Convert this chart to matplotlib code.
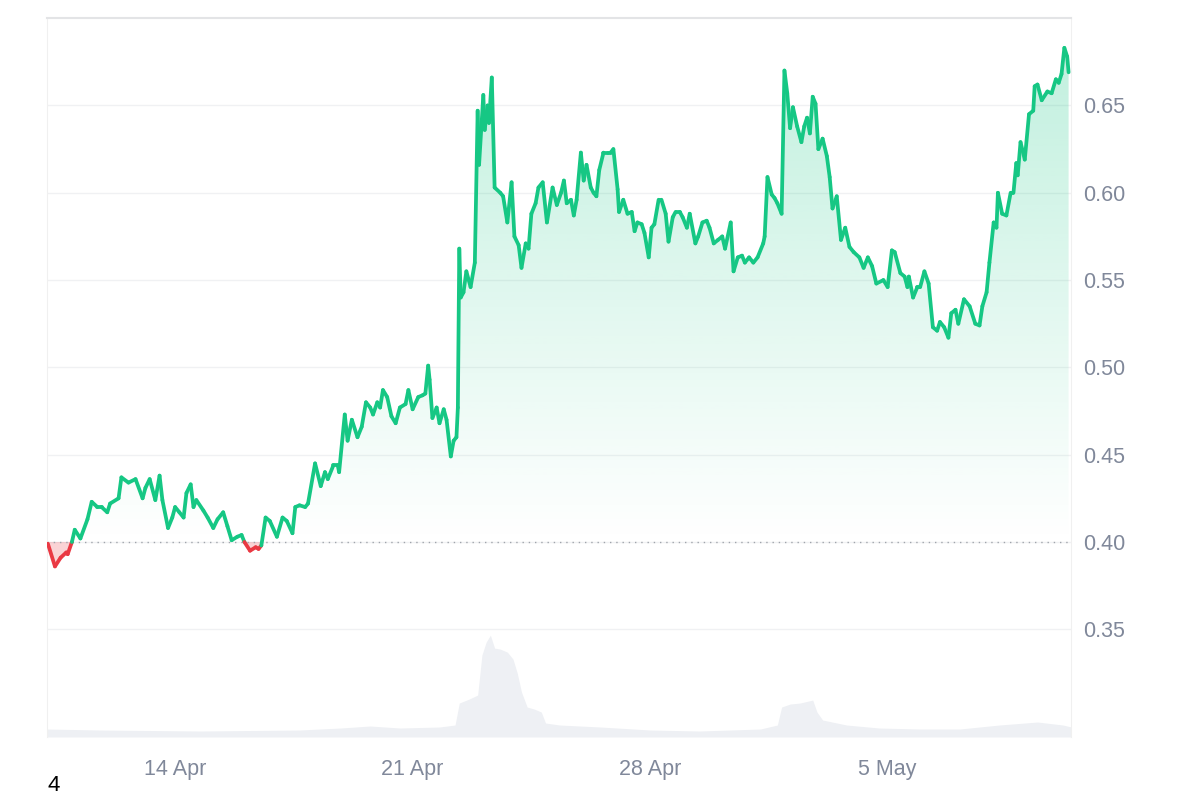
import numpy as np
import pandas as pd
import matplotlib.pyplot as plt
import matplotlib.dates as mdates
from matplotlib.collections import LineCollection
from matplotlib.path import Path

plt.rcParams['font.family'] = ['Liberation Sans', 'DejaVu Sans']

# price series: hours after 10 Apr 05:00, price in USD
hours = [1, 6, 10, 14, 15, 18, 20, 24, 29, 32, 36, 39, 43, 45, 51, 53, 58, 63, 68, 70,
         73, 77, 80, 82, 86, 89, 91, 94, 97, 99, 102, 104, 106, 111, 114, 118, 121, 125, 128, 131,
         135, 138, 140, 144, 148, 150, 152, 155, 158, 163, 167, 170, 174, 176, 179, 183, 185, 190, 194, 197,
         199, 203, 206, 207, 211, 213, 216, 220, 223, 226, 229, 231, 234, 236, 238, 241, 244, 247, 250, 254,
         256, 259, 263, 266, 268, 270, 271, 273, 276, 278, 281, 283, 286, 288, 290, 291, 292, 293, 295, 297,
         300, 303, 305, 306, 309, 310, 312, 313, 315, 317, 321, 323, 326, 329, 331, 334, 336, 339, 341, 343,
         346, 348, 351, 354, 358, 361, 364, 366, 368, 371, 373, 375, 378, 380, 382, 385, 387, 389, 391, 394,
         397, 399, 401, 404, 405, 408, 411, 414, 416, 418, 421, 423, 426, 428, 430, 433, 435, 438, 440, 443,
         445, 448, 450, 453, 455, 459, 461, 464, 467, 469, 472, 475, 478, 480, 484, 486, 489, 492, 494, 497,
         500, 503, 507, 508, 510, 513, 515, 517, 520, 522, 524, 526, 528, 531, 534, 536, 538, 540, 542, 544,
         546, 549, 552, 554, 556, 559, 562, 565, 568, 571, 575, 578, 581, 584, 587, 592, 595, 598, 600, 604,
         607, 609, 610, 613, 616, 618, 621, 624, 627, 630, 632, 635, 638, 640, 643, 645, 649, 653, 657, 660,
         662, 665, 667, 670, 672, 673, 676, 679, 682, 684, 686, 687, 689, 692, 695, 698, 699, 701, 704, 708,
         711, 714, 716, 718, 720, 722, 723]
price = [0.399, 0.386, 0.391, 0.394, 0.393, 0.400, 0.407, 0.402, 0.413, 0.423, 0.420, 0.420, 0.417, 0.422, 0.425, 0.437, 0.434, 0.436, 0.425, 0.431,
         0.436, 0.424, 0.438, 0.424, 0.408, 0.414, 0.420, 0.417, 0.414, 0.428, 0.433, 0.420, 0.424, 0.418, 0.414, 0.408, 0.413, 0.417, 0.409, 0.401,
         0.403, 0.404, 0.400, 0.395, 0.397, 0.396, 0.398, 0.414, 0.412, 0.403, 0.414, 0.412, 0.405, 0.420, 0.421, 0.420, 0.422, 0.445, 0.432, 0.440,
         0.436, 0.444, 0.444, 0.440, 0.473, 0.458, 0.470, 0.460, 0.466, 0.480, 0.477, 0.473, 0.480, 0.477, 0.487, 0.483, 0.472, 0.468, 0.477, 0.479,
         0.487, 0.476, 0.483, 0.484, 0.485, 0.501, 0.493, 0.471, 0.477, 0.468, 0.476, 0.470, 0.449, 0.458, 0.460, 0.477, 0.568, 0.540, 0.543, 0.555,
         0.546, 0.560, 0.647, 0.616, 0.656, 0.636, 0.650, 0.640, 0.666, 0.603, 0.600, 0.598, 0.583, 0.606, 0.575, 0.570, 0.557, 0.571, 0.568, 0.588,
         0.594, 0.603, 0.606, 0.583, 0.603, 0.593, 0.600, 0.607, 0.594, 0.596, 0.587, 0.596, 0.623, 0.607, 0.616, 0.603, 0.600, 0.598, 0.613, 0.623,
         0.623, 0.623, 0.625, 0.602, 0.589, 0.596, 0.588, 0.589, 0.578, 0.583, 0.582, 0.577, 0.563, 0.580, 0.582, 0.596, 0.596, 0.588, 0.572, 0.586,
         0.589, 0.589, 0.586, 0.580, 0.588, 0.571, 0.575, 0.583, 0.584, 0.580, 0.571, 0.573, 0.575, 0.568, 0.583, 0.555, 0.563, 0.564, 0.560, 0.563,
         0.560, 0.563, 0.571, 0.575, 0.609, 0.599, 0.597, 0.594, 0.588, 0.670, 0.657, 0.637, 0.649, 0.638, 0.629, 0.638, 0.643, 0.634, 0.655, 0.651,
         0.625, 0.631, 0.621, 0.609, 0.591, 0.598, 0.573, 0.580, 0.569, 0.566, 0.563, 0.557, 0.563, 0.558, 0.548, 0.550, 0.546, 0.567, 0.566, 0.554,
         0.552, 0.546, 0.552, 0.540, 0.546, 0.546, 0.555, 0.548, 0.523, 0.521, 0.526, 0.523, 0.517, 0.531, 0.533, 0.525, 0.539, 0.535, 0.525, 0.524,
         0.535, 0.543, 0.560, 0.583, 0.580, 0.600, 0.588, 0.587, 0.600, 0.600, 0.617, 0.610, 0.629, 0.619, 0.645, 0.647, 0.661, 0.662, 0.653, 0.658,
         0.657, 0.665, 0.663, 0.668, 0.683, 0.678, 0.669]

# volume (millions USD) on the same hour scale
vol_hours = [0, 38, 109, 179, 208, 229, 250, 278, 289, 292, 299, 305, 308, 311, 314, 317, 321, 326, 330, 333,
             336, 340, 345, 350, 353, 363, 392, 427, 462, 505, 517, 520, 526, 533, 542, 545, 549, 566, 589, 618,
             646, 674, 701, 719, 725]
volume = [8, 7, 6, 7, 9, 11, 9, 10, 12, 34, 38, 42, 82, 95, 102, 89, 88, 85, 78, 64,
          45, 30, 28, 25, 14, 12, 10, 7, 6, 8, 12, 30, 33, 34, 37, 25, 17, 12, 9, 8,
          8, 12, 15, 12, 10]

base_price = 0.40
price_ticks = [0.35, 0.40, 0.45, 0.50, 0.55, 0.60, 0.65]
tick_dates = ['2024-04-14', '2024-04-21', '2024-04-28', '2024-05-05']
tick_labels = ['14 Apr', '21 Apr', '28 Apr', '5 May']

green = '#16c784'
red = '#ea3943'

start = pd.Timestamp('2024-04-10 05:00')
t = mdates.date2num(start + pd.to_timedelta(hours, unit='h'))
vt = mdates.date2num(start + pd.to_timedelta(vol_hours, unit='h'))
p = np.array(price)
x0 = mdates.date2num(start + pd.Timedelta(hours=0.4))
x1 = mdates.date2num(start + pd.Timedelta(hours=724.7))
y0, y1 = 0.2883, 0.7001

fig = plt.figure(figsize=(12, 8), dpi=100)
rect = [0.0392, 0.07875, 0.8533, 0.89875]

# volume underneath
axv = fig.add_axes(rect)
axv.fill_between(vt, volume, color='#eef0f4', lw=0)
axv.set_xlim(x0, x1)
axv.set_ylim(0, 720)
axv.axis('off')

ax = fig.add_axes(rect)
ax.patch.set_visible(False)

# green gradient fill above the baseline
poly = ax.fill_between(t, p, base_price, where=p >= base_price, interpolate=True,
                       color='none', lw=0)
clip = Path.make_compound_path(*poly.get_paths())
grad = np.zeros((256, 1, 4))
grad[..., :3] = [22 / 255, 199 / 255, 132 / 255]
grad[:, 0, 3] = np.linspace(0.28, 0.0, 256)
im = ax.imshow(grad, extent=[x0, x1, base_price, y1], aspect='auto', origin='upper', zorder=1)
im.set_clip_path(clip, transform=ax.transData)

ax.fill_between(t, p, base_price, where=p < base_price, interpolate=True,
                color=red, alpha=0.22, lw=0, zorder=1)

# price line, coloured by side of the baseline
pts = np.column_stack([t, p])
segs = np.stack([pts[:-1], pts[1:]], axis=1)
cols = np.where((p[:-1] + p[1:]) / 2 >= base_price, green, red)
ax.add_collection(LineCollection(segs, colors=cols, linewidths=2.7,
                                 capstyle='round', joinstyle='round', zorder=3))

ax.axhline(base_price, color='#a0a4ab', ls=(0, (1, 3.5)), lw=1, zorder=2)

ax.set_xlim(x0, x1)
ax.set_ylim(y0, y1)
ax.set_yticks(price_ticks)
ax.set_yticklabels([f'{v:.2f}' for v in price_ticks])
ax.yaxis.tick_right()
ax.set_xticks(mdates.date2num(pd.to_datetime(tick_dates)))
ax.set_xticklabels(tick_labels)
ax.tick_params(axis='y', length=0, pad=9, labelsize=15.5, labelcolor='#80889a')
ax.tick_params(axis='x', length=0, pad=16, labelsize=15.5, labelcolor='#80889a')
ax.yaxis.grid(True, color='#f0f1f3', lw=1)
ax.set_axisbelow(True)

for side in ['left', 'right']:
    ax.spines[side].set_color('#f0f0f0')
ax.spines['top'].set_color('#e3e4e6')
ax.spines['top'].set_linewidth(1.5)
ax.spines['bottom'].set_visible(False)

fig.text(47 / 1200, 4 / 800, '4', fontsize=16, color='black', ha='left', va='bottom')

fig.savefig('out.png', dpi=100)
